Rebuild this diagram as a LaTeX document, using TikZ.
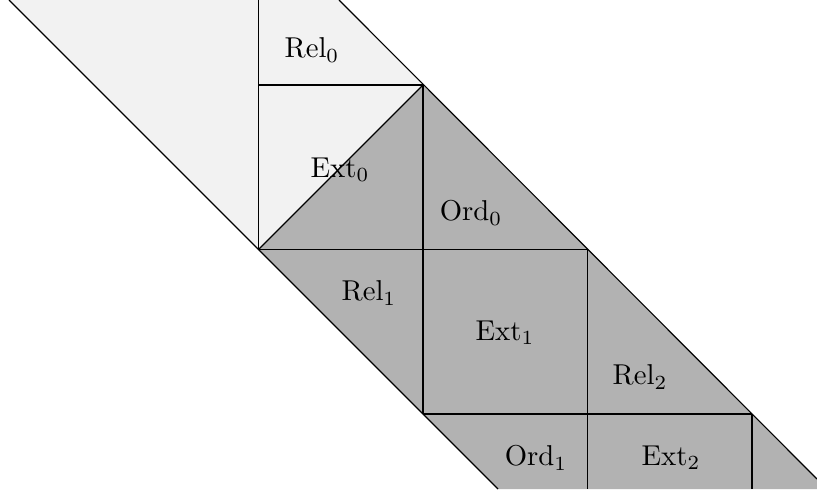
\documentclass[tikz,border=0pt]{standalone}
\begin{document}
\begin{tikzpicture}[x=0.01224cm,y=-0.01224cm,
  lightreg/.style={fill=gray!10},
  darkreg/.style={fill=gray!60},
  gridline/.style={draw=black,line width=0.4pt},
  lab/.style={inner sep=0pt}]
\useasboundingbox (0,0) rectangle (817,489);
\clip (0,0) rectangle (817,489);
% key points
\coordinate (A) at (258.5,249.5);
\coordinate (B) at (423,85);
\coordinate (TL) at (9,0);
\coordinate (TR) at (339,0);
\coordinate (RE) at (817,479);
\coordinate (BR) at (817,489);
\coordinate (BL) at (498,489);
% regions
\fill[lightreg] (TL) -- (TR) -- (B) -- (A) -- cycle;
\fill[darkreg] (A) -- (B) -- (RE) -- (BR) -- (BL) -- cycle;
% outer diagonals
\draw[gridline] (TL) -- (A) -- (BL);
\draw[gridline] (TR) -- (RE);
\draw[gridline] (A) -- (B);
% grid lines
\draw[gridline] (258.5,0) -- (A);
\draw[gridline] (258.5,85) -- (B);
\draw[gridline] (B) -- (423,414);
\draw[gridline] (A) -- (587.5,249.5);
\draw[gridline] (587.5,249.5) -- (587.5,489);
\draw[gridline] (423,414) -- (752,414);
\draw[gridline] (752,414) -- (752,489);
% labels
\node[lab] (rel0) at (312,50) {Rel$_0$};
\node[lab] (ext0) at (340,170) {Ext$_0$};
\node[lab] (ord0) at (471,213) {Ord$_0$};
\node[lab] (rel1) at (369,293) {Rel$_1$};
\node[lab] (ext1) at (505,333) {Ext$_1$};
\node[lab] (rel2) at (640,377) {Rel$_2$};
\node[lab] (ord1) at (536,458) {Ord$_1$};
\node[lab] (ext2) at (671,458) {Ext$_2$};
\end{tikzpicture}
\end{document}
